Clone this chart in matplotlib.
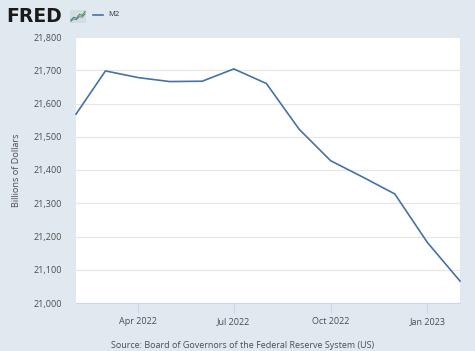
import numpy as np
import pandas as pd
import matplotlib
matplotlib.use("Agg")
import matplotlib.pyplot as plt
import matplotlib.dates as mdates

# M2, billions of dollars, monthly
dates = pd.date_range("2022-02-01", "2023-02-01", freq="MS")
m2 = [21568, 21698, 21678, 21666, 21667, 21704, 21660,
      21523, 21428, 21378, 21328, 21182, 21066]

y_ticks = [21000, 21100, 21200, 21300, 21400, 21500, 21600, 21700, 21800]
x_ticks = pd.to_datetime(["2022-04-01", "2022-07-01", "2022-10-01", "2023-01-01"])
x_labels = ["Apr 2022", "Jul 2022", "Oct 2022", "Jan 2023"]

bg = "#e1e9f0"
line_col = "#4572a7"
text_col = "#4d4d4d"

plt.rcParams["font.family"] = ["Open Sans", "DejaVu Sans"]

fig = plt.figure(figsize=(4.75, 3.51), dpi=100, facecolor=bg)
ax = fig.add_axes([76 / 475, 48 / 351, 384 / 475, 266 / 351])
ax.set_facecolor("white")

ax.plot(dates, m2, color=line_col, lw=1.2, solid_joinstyle="miter", clip_on=False, zorder=3)

ax.set_xlim(dates[0], dates[-1])
ax.set_ylim(21000, 21800)
ax.set_yticks(y_ticks)
ax.set_yticklabels([f"{v:,}" for v in y_ticks])
ax.set_xticks(x_ticks)
ax.set_xticklabels(x_labels)

ax.grid(axis="y", color="#e6e6e6", lw=0.8)
ax.set_axisbelow(True)
for s in ["top", "right", "left"]:
    ax.spines[s].set_visible(False)
ax.spines["bottom"].set_color("#ccd6eb")
ax.spines["bottom"].set_linewidth(0.8)

ax.tick_params(axis="y", length=0, pad=10, labelsize=6.5, labelcolor=text_col)
ax.tick_params(axis="x", length=7, width=0.8, color="#ccd6eb", pad=3,
               labelsize=6.5, labelcolor=text_col, direction="out")

ax.set_ylabel("Billions of Dollars", fontsize=6.6, color=text_col, labelpad=9)

fig.text(243 / 475, 1 - 345 / 351, "Source: Board of Governors of the Federal Reserve System (US)",
         ha="center", va="center", fontsize=6.5, color=text_col)

# FRED logo
fig.text(6 / 475, 1 - 16 / 351, "FRED", fontsize=13.5, fontweight="heavy",
         family="DejaVu Sans", color="#1a1a1a", ha="left", va="center")
icon = fig.add_axes([70 / 475, 1 - 23 / 351, 16 / 475, 13 / 351])
icon.set_facecolor("#d4dbe2")
icon.set_xticks([])
icon.set_yticks([])
for s in icon.spines.values():
    s.set_visible(False)
icon_x = [0, 1, 2, 3, 4, 5]
icon.plot(icon_x, [1, 2, 1.6, 3, 2.6, 4], color="#3f9a44", lw=0.8)
icon.plot(icon_x, [0.6, 1.4, 1.2, 2.2, 2.0, 3.2], color="#4572a7", lw=0.6)
icon.set_xlim(-0.3, 5.3)
icon.set_ylim(0, 4.5)

# legend
fig.add_artist(plt.Line2D([93 / 475, 103 / 475], [1 - 15 / 351, 1 - 15 / 351],
                          color=line_col, lw=1.2, transform=fig.transFigure))
fig.text(108 / 475, 1 - 15 / 351, "M2", fontsize=5.5, color="#333333",
         ha="left", va="center")

fig.savefig("out.png", dpi=100, facecolor=bg)
